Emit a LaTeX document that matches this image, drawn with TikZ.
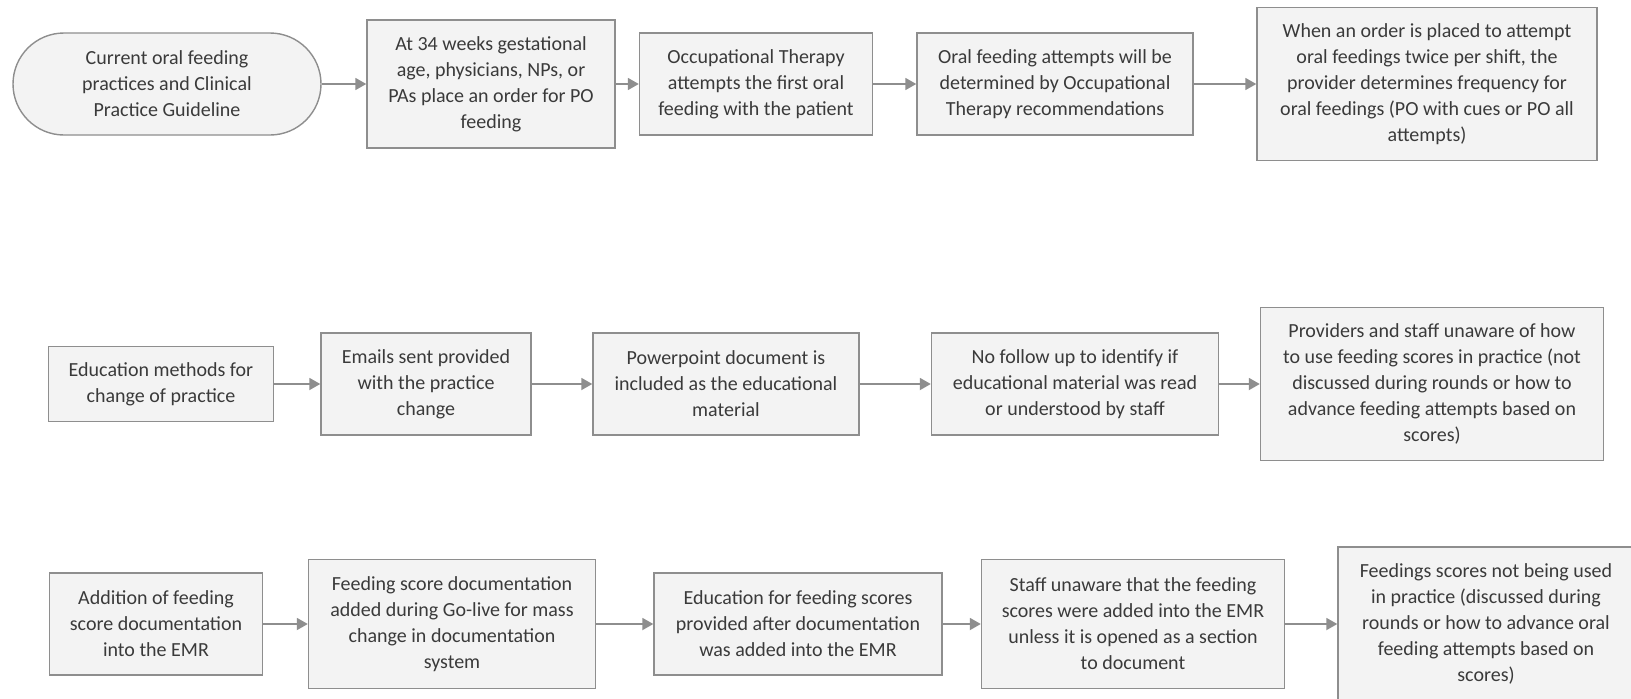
\documentclass[tikz,border=0pt]{standalone}
\usepackage{fontspec}
\setmainfont{Carlito}
\usetikzlibrary{arrows.meta}
\definecolor{boxfill}{HTML}{F3F3F3}
\definecolor{boxline}{HTML}{8E8E8E}
\definecolor{txt}{HTML}{3A3A3A}
\begin{document}
\begin{tikzpicture}[x=1pt,y=-1pt,
  every node/.style={font=\fontsize{20}{26}\selectfont, text=txt, align=center, inner sep=0pt},
  stepbox/.style={draw=boxline, fill=boxfill, line width=1.4pt, rectangle},
  startbox/.style={stepbox, rounded corners=51pt},
  flow/.style={draw=boxline, line width=1.8pt, -{Triangle[length=11pt,width=12pt]}}]
\useasboundingbox (0,0) rectangle (1631,699);
\clip (0,0) rectangle (1631,699);
\fill[white] (0,0) rectangle (1631,699);

% first row: current practice
\node[startbox, minimum width=308pt, minimum height=102pt] (a1) at (167,84)
  {Current oral feeding\\practices and Clinical\\Practice Guideline};
\node[stepbox, minimum width=248pt, minimum height=128pt] (a2) at (491,84)
  {At 34 weeks gestational\\age, physicians, NPs, or\\PAs place an order for PO\\feeding};
\node[stepbox, minimum width=233pt, minimum height=102pt] (a3) at (756,84)
  {Occupational Therapy\\attempts the first oral\\feeding with the patient};
\node[stepbox, minimum width=276pt, minimum height=102pt] (a4) at (1055,84)
  {Oral feeding attempts will be\\determined by Occupational\\Therapy recommendations};
\node[stepbox, minimum width=340pt, minimum height=153pt] (a5) at (1427,84)
  {When an order is placed to attempt\\oral feedings twice per shift, the\\provider determines frequency for\\oral feedings (PO with cues or PO all\\attempts)};

% second row: education methods
\node[stepbox, minimum width=225pt, minimum height=75pt] (b1) at (161,384)
  {Education methods for\\change of practice};
\node[stepbox, minimum width=210pt, minimum height=102pt] (b2) at (426,384)
  {Emails sent provided\\with the practice\\change};
\node[stepbox, minimum width=266pt, minimum height=102pt] (b3) at (726,384)
  {Powerpoint document is\\included as the educational\\material};
\node[stepbox, minimum width=287pt, minimum height=102pt] (b4) at (1075,384)
  {No follow up to identify if\\educational material was read\\or understood by staff};
\node[stepbox, minimum width=343pt, minimum height=153pt] (b5) at (1432,384)
  {Providers and staff unaware of how\\to use feeding scores in practice (not\\discussed during rounds or how to\\advance feeding attempts based on\\scores)};

% third row: feeding score documentation
\node[stepbox, minimum width=213pt, minimum height=102pt] (c1) at (156,624)
  {Addition of feeding\\score documentation\\into the EMR};
\node[stepbox, minimum width=287pt, minimum height=129pt] (c2) at (452,624)
  {Feeding score documentation\\added during Go-live for mass\\change in documentation\\system};
\node[stepbox, minimum width=288pt, minimum height=102pt] (c3) at (798,624)
  {Education for feeding scores\\provided after documentation\\was added into the EMR};
\node[stepbox, minimum width=303pt, minimum height=129pt] (c4) at (1133,624)
  {Staff unaware that the feeding\\scores were added into the EMR\\unless it is opened as a section\\to document};
\node[stepbox, minimum width=296pt, minimum height=154pt] (c5) at (1486,624)
  {Feedings scores not being used\\in practice (discussed during\\rounds or how to advance oral\\feeding attempts based on\\scores)};

\draw[flow] (a1) -- (a2);
\draw[flow] (a2) -- (a3);
\draw[flow] (a3) -- (a4);
\draw[flow] (a4) -- (a5);
\draw[flow] (b1) -- (b2);
\draw[flow] (b2) -- (b3);
\draw[flow] (b3) -- (b4);
\draw[flow] (b4) -- (b5);
\draw[flow] (c1) -- (c2);
\draw[flow] (c2) -- (c3);
\draw[flow] (c3) -- (c4);
\draw[flow] (c4) -- (c5);
\end{tikzpicture}
\end{document}
